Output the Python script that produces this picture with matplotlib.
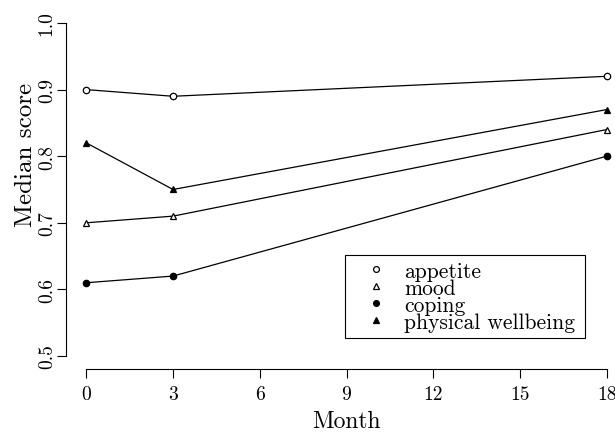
import matplotlib
matplotlib.use('Agg')
import matplotlib.pyplot as plt
from matplotlib.lines import Line2D

plt.rcParams['font.family'] = 'serif'
plt.rcParams['font.serif'] = ['cmr10']
plt.rcParams['mathtext.fontset'] = 'cm'
plt.rcParams['axes.formatter.use_mathtext'] = True

# data
months = [0, 3, 18]
appetite = [0.90, 0.89, 0.92]
mood = [0.70, 0.71, 0.84]
coping = [0.61, 0.62, 0.80]
physical = [0.82, 0.75, 0.87]
names = ['appetite', 'mood', 'coping', 'physical wellbeing']
xticks = [0, 3, 6, 9, 12, 15, 18]
yticks = [0.5, 0.6, 0.7, 0.8, 0.9, 1.0]

fig = plt.figure(figsize=(6.15, 4.35), dpi=100)
W, H = 615, 435
ax = fig.add_axes([65.5 / W, 64.7 / H, 562 / W, 359.6 / H])

styles = [('o', 'white'), ('^', 'white'), ('o', 'black'), ('^', 'black')]
series = [appetite, mood, coping, physical]
handles = []
for vals, (m, fc), nm in zip(series, styles, names):
    ax.plot(months, vals, color='black', lw=0.9, marker=m, markersize=4.6,
            markerfacecolor=fc, markeredgecolor='black', markeredgewidth=0.9)
    handles.append(Line2D([], [], linestyle='none', marker=m, markersize=4.2,
                          markerfacecolor=fc, markeredgecolor='black',
                          markeredgewidth=0.9, label=nm))

ax.set_xlim(-0.72, 18.72)
ax.set_ylim(0.48, 1.02)
ax.set_xticks(xticks)
ax.set_xticklabels([str(v) for v in xticks])
ax.set_yticks(yticks)
ax.set_yticklabels(['%.1f' % v for v in yticks])
for s in ['top', 'right']:
    ax.spines[s].set_visible(False)
ax.spines['left'].set_bounds(0.5, 1.0)
ax.spines['bottom'].set_bounds(0, 18)
ax.tick_params(direction='out', length=6.5, width=0.8, labelsize=14)
ax.tick_params(axis='x', pad=5)
ax.tick_params(axis='y', labelrotation=90, pad=0.5)
for t in ax.get_yticklabels():
    t.set_va('center')
ax.set_xlabel('Month', fontsize=17, labelpad=5)
ax.set_ylabel('Median score', fontsize=18)
ax.yaxis.set_label_coords(-0.05, 0.6)

leg = fig.legend(handles=handles, loc='upper left', mode='expand',
                 bbox_to_anchor=(345 / W, 100 / H, 240 / W, 79 / H),
                 bbox_transform=fig.transFigure,
                 fontsize=15.5, frameon=True, fancybox=False, framealpha=1,
                 edgecolor='black', borderaxespad=0, handlelength=2.3,
                 handletextpad=0.15, labelspacing=-0.12, borderpad=0.3)
leg.get_frame().set_linewidth(0.8)

plt.savefig('out.png', dpi=100)
